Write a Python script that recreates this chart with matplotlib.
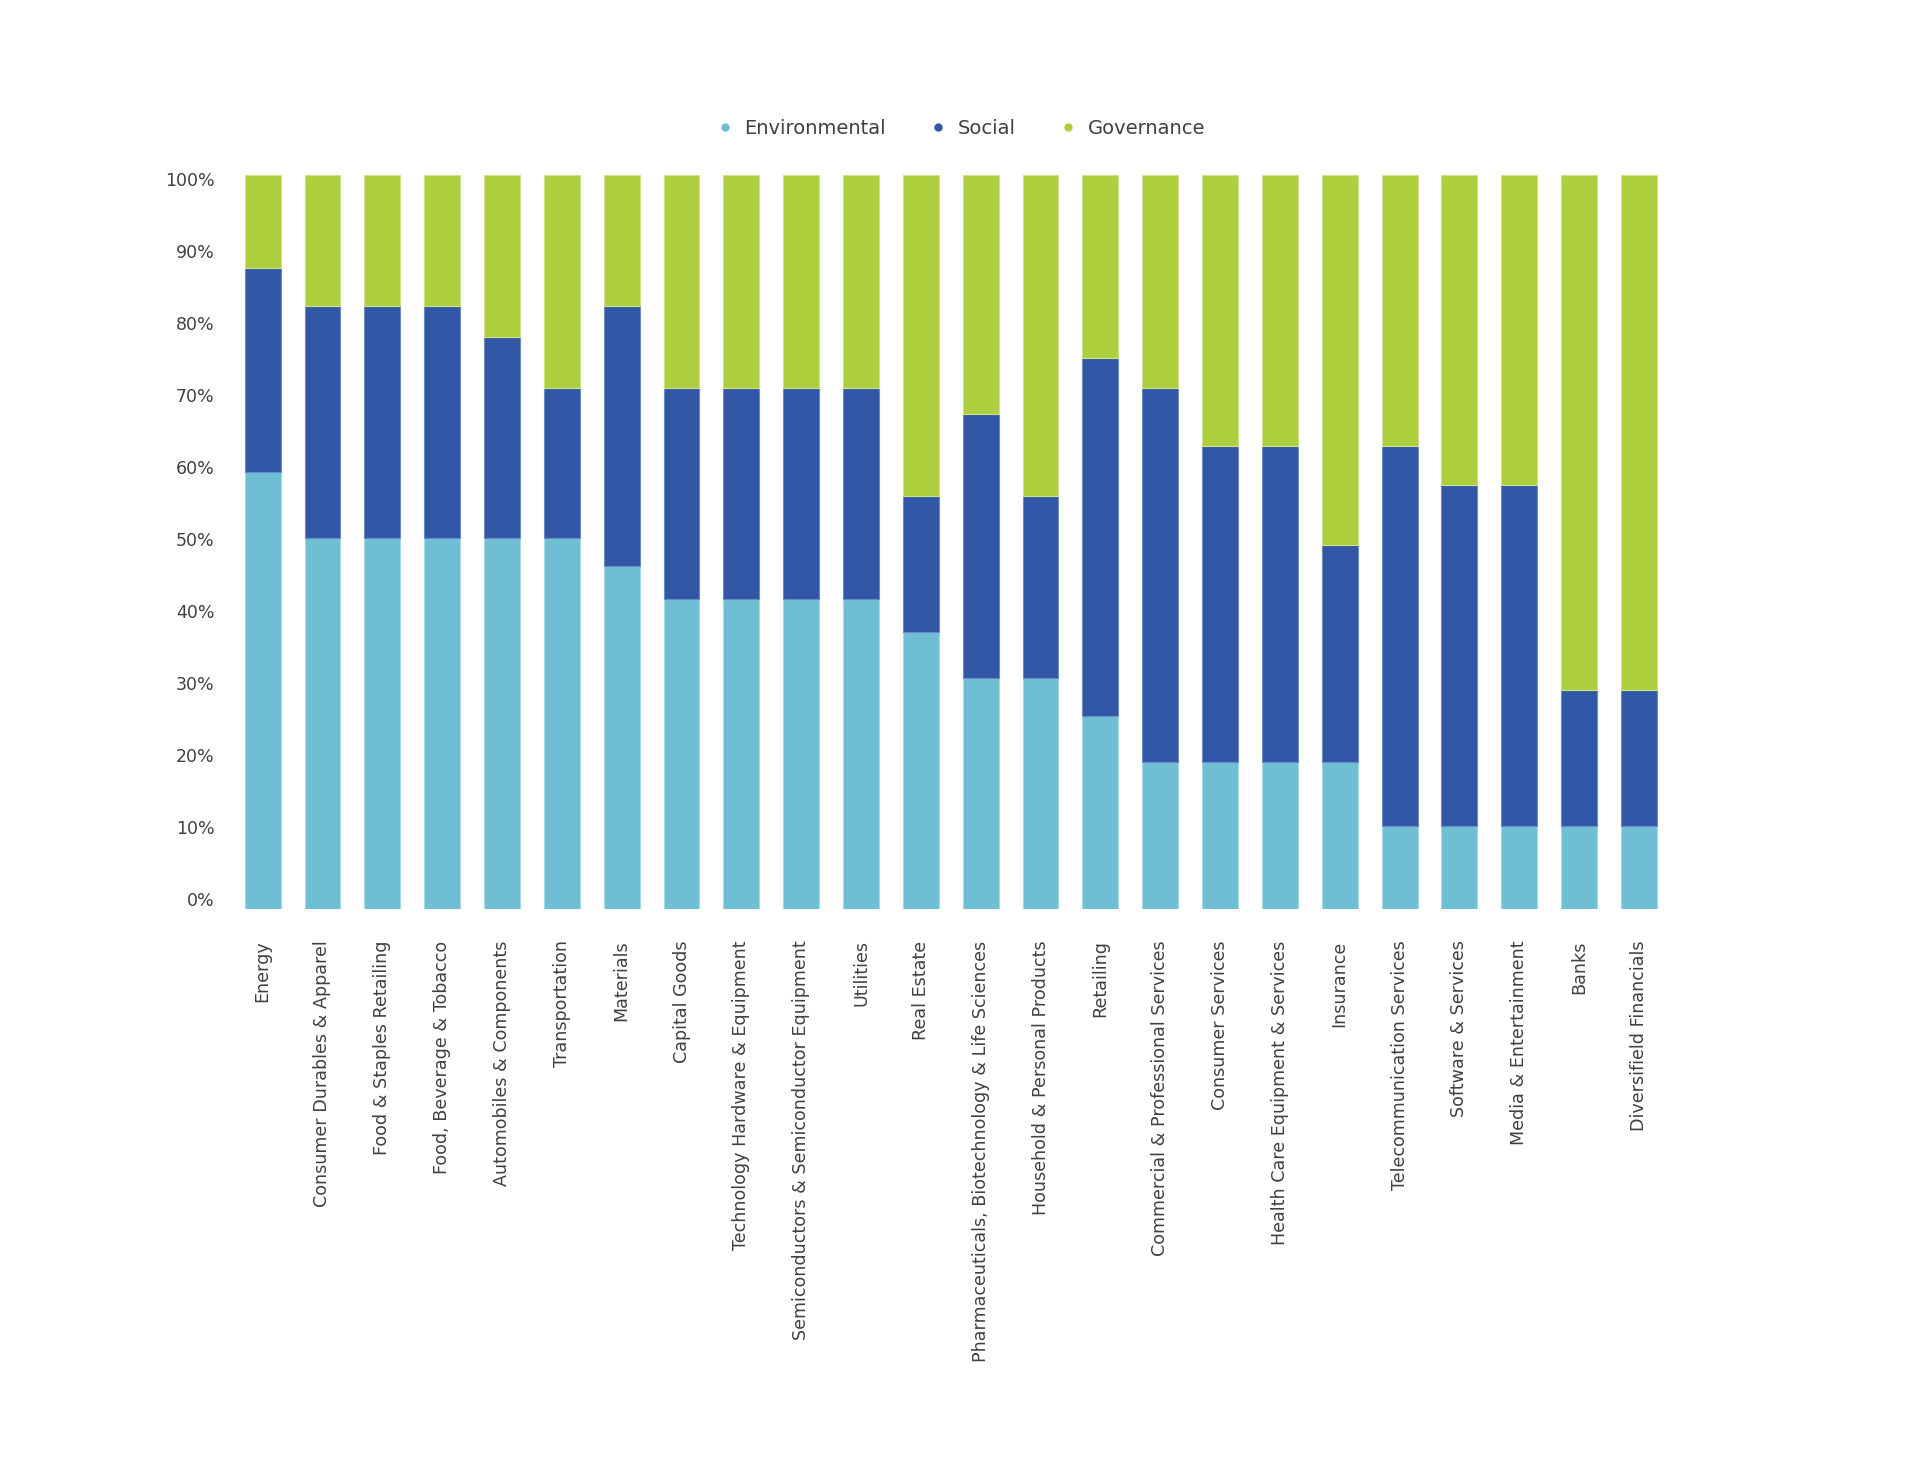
import numpy as np
import matplotlib
matplotlib.use('Agg')
import matplotlib.pyplot as plt
from matplotlib.lines import Line2D

plt.rcParams['font.family'] = ['DejaVu Sans']

# 산업군
sectors = ['Energy', 'Consumer Durables & Apparel', 'Food & Staples Retailing',
           'Food, Beverage & Tobacco', 'Automobiles & Components', 'Transportation',
           'Materials', 'Capital Goods', 'Technology Hardware & Equipment',
           'Semiconductors & Semiconductor Equipment', 'Utilities', 'Real Estate',
           'Pharmaceuticals, Biotechnology & Life Sciences', 'Household & Personal Products',
           'Retailing', 'Commercial & Professional Services', 'Consumer Services',
           'Health Care Equipment & Services', 'Insurance', 'Telecommunication Services',
           'Software & Services', 'Media & Entertainment', 'Banks', 'Diversifield Financials']

# 비중 (%)
environmental = [59.5, 50.5, 50.5, 50.5, 50.5, 50.5, 46.7, 42.2, 42.2, 42.2, 42.2, 37.7,
                 31.4, 31.4, 26.2, 20.0, 20.0, 20.0, 20.0, 11.3, 11.3, 11.3, 11.3, 11.3]
social = [27.8, 31.6, 31.6, 31.6, 27.4, 20.4, 35.4, 28.7, 28.7, 28.7, 28.7, 18.5,
          36.0, 24.9, 48.8, 50.9, 43.0, 43.0, 29.5, 51.7, 46.5, 46.5, 18.5, 18.5]
governance = [100 - e - s for e, s in zip(environmental, social)]

ytick_vals = list(range(0, 101, 10))

c_env = '#6EBFD4'
c_soc = '#3257A6'
c_gov = '#ADCE3D'
txt = '#404040'

fig = plt.figure(figsize=(19.2, 14.79), dpi=100)
ax = fig.add_axes([0.1212, 0.3857, 0.748, 0.496])

x = np.arange(len(sectors))
width = 0.6
env = np.array(environmental)
soc = np.array(social)
gov = np.array(governance)

ax.bar(x, env, width, color=c_env, edgecolor='#A6DAE6', linewidth=0.8)
ax.bar(x, soc, width, bottom=env, color=c_soc, edgecolor='#6C8AC6', linewidth=0.8)
ax.bar(x, gov, width, bottom=env + soc, color=c_gov, edgecolor='#CDE38A', linewidth=0.8)

ax.set_xlim(-0.5, len(sectors) - 0.5)
ax.set_ylim(0, 100)
# 원본처럼 눈금 라벨이 살짝 안쪽으로 모여 있음
ax.set_yticks([1.3 + v * 0.982 for v in ytick_vals])
ax.set_yticklabels(['{}%'.format(v) for v in ytick_vals], fontsize=12.5, color=txt)
ax.set_xticks(x)
ax.set_xticklabels(sectors, rotation=90, fontsize=12.6, color=txt, va='top', ha='center')
ax.tick_params(axis='y', length=0, pad=13)
ax.tick_params(axis='x', length=0, pad=23)
for s in ax.spines.values():
    s.set_visible(False)

handles = [Line2D([0], [0], marker='o', linestyle='none', markersize=5, color=c)
           for c in (c_env, c_soc, c_gov)]
fig.legend(handles, ['Environmental', 'Social', 'Governance'],
           loc='center', bbox_to_anchor=(0.5, 0.913), ncol=3, frameon=False,
           fontsize=14, labelcolor=txt, handlelength=1.0, handletextpad=0.5,
           columnspacing=2.2)

fig.savefig('out.png', dpi=100, facecolor='white')
